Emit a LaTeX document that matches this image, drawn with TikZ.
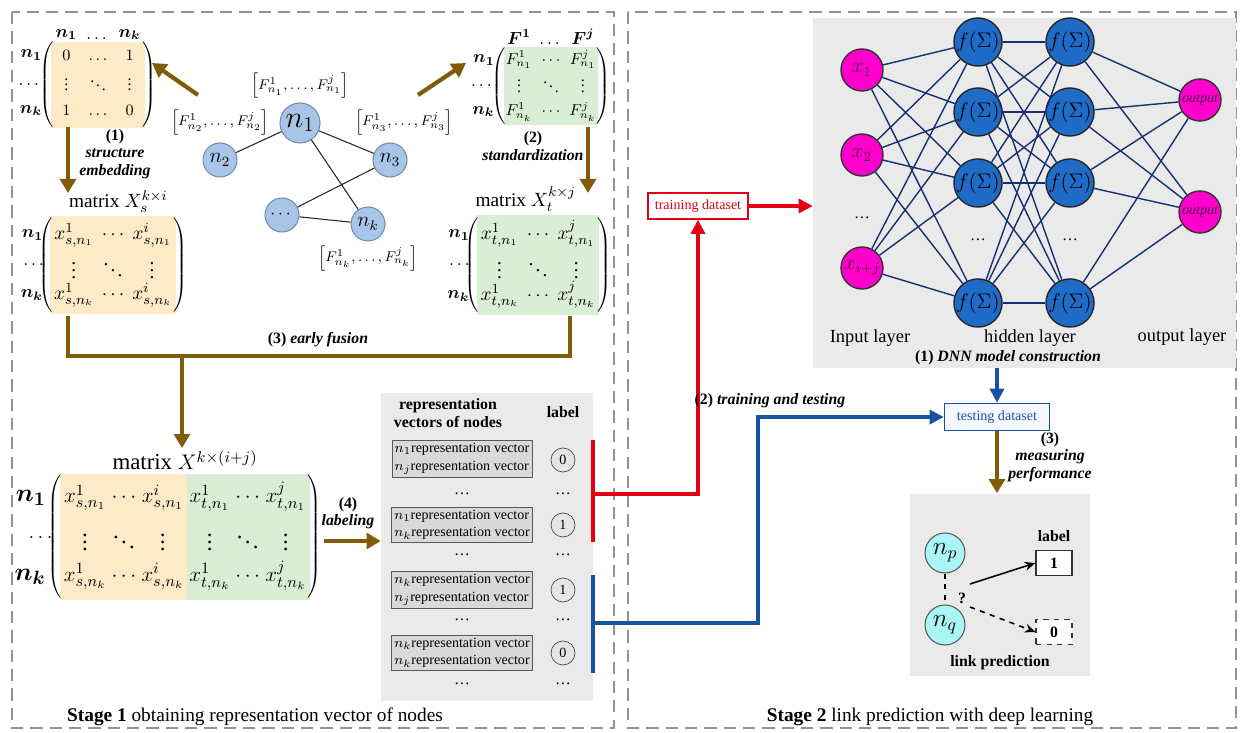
\documentclass[tikz,border=0pt]{standalone}
\usepackage{fontspec}
\setmainfont{Liberation Serif}
\usepackage{amsmath}
\usepackage{amssymb}
\usetikzlibrary{positioning, matrix, calc, backgrounds, arrows.meta}

\definecolor{brownarr}{RGB}{128,92,8}
\definecolor{yelfill}{RGB}{253,235,200}
\definecolor{grnfill}{RGB}{218,237,213}
\definecolor{panelgray}{RGB}{234,234,234}
\definecolor{gfill}{RGB}{168,196,230}
\definecolor{gdraw}{RGB}{110,140,180}
\definecolor{redline}{RGB}{225,0,20}
\definecolor{blueline}{RGB}{22,84,160}
\definecolor{netblue}{RGB}{22,48,115}
\definecolor{hidblue}{RGB}{30,108,200}
\definecolor{magnode}{RGB}{255,0,204}
\definecolor{cyanfill}{RGB}{170,245,245}

\newcommand{\svdots}{\vbox{\baselineskip=3pt\lineskiplimit=0pt\kern1pt\hbox{.}\hbox{.}\hbox{.}}}
\newcommand{\sddots}{\mathinner{\mkern1mu\raise5pt\hbox{.}\mkern2mu\raise2.5pt\hbox{.}\mkern2mu\hbox{.}\mkern1mu}}

\begin{document}
\begin{tikzpicture}[x=0.02cm, y=-0.02cm,
  every node/.style={font=\fontsize{9}{10}\selectfont},
  every left delimiter/.style={xshift=2.5pt},
  every right delimiter/.style={xshift=-2.5pt},
  stagebox/.style={draw=gray!85, dash pattern=on 7pt off 4pt, line width=0.9pt},
  brownarrow/.style={draw=brownarr, line width=2.4pt, -{Triangle[width=9pt,length=8pt]}},
  brownline/.style={draw=brownarr, line width=2.4pt},
  redarrow/.style={draw=redline, line width=1.8pt, -{Triangle[width=8pt,length=8pt]}},
  redbar/.style={draw=redline, line width=1.8pt},
  bluearrow/.style={draw=blueline, line width=1.8pt, -{Triangle[width=8pt,length=8pt]}},
  bluebar/.style={draw=blueline, line width=1.8pt},
  smallmat/.style={matrix of math nodes, left delimiter=(, right delimiter=), inner sep=1pt,
    column sep=3pt, row sep=1pt,
    nodes={minimum width=15pt, minimum height=13pt, inner sep=0pt, font=\fontsize{9}{10}\selectfont}},
  midmat/.style={matrix of math nodes, left delimiter=(, right delimiter=), inner sep=2pt,
    column sep=2pt, row sep=0pt,
    nodes={minimum width=18pt, minimum height=17pt, inner sep=0pt, font=\fontsize{11}{12}\selectfont}},
  bigmat/.style={matrix of math nodes, left delimiter=(, right delimiter=), inner sep=2pt,
    column sep=3pt, row sep=0pt,
    nodes={minimum width=12pt, minimum height=22pt, inner sep=0pt, font=\fontsize{13}{15}\selectfont}},
  hdr/.style={inner sep=1pt, font=\fontsize{10}{11}\selectfont},
  rowlab/.style={inner sep=0pt, font=\fontsize{10}{11}\selectfont},
  matlab/.style={inner sep=1pt, font=\fontsize{11}{12}\selectfont},
  capt/.style={align=center, inner sep=1pt, font=\fontsize{9}{10}\selectfont},
  gnode/.style={circle, fill=gfill, draw=gdraw, line width=0.6pt, minimum size=0.68cm, inner sep=0pt, font=\large},
  gedge/.style={draw=black!85, line width=0.6pt},
  featlab/.style={inner sep=1pt, font=\fontsize{8}{9}\selectfont},
  panel/.style={fill=panelgray, draw=none, inner sep=0pt},
  bhead/.style={align=center, inner sep=1pt, font=\bfseries\fontsize{9}{10}\selectfont},
  repbox/.style={draw=gray!70!black, fill=black!15, align=left, inner sep=1.5pt,
    minimum width=2.6cm, font=\fontsize{8}{10}\selectfont},
  lcirc/.style={circle, draw=gray!60!black, fill=black!10, minimum size=0.48cm, inner sep=0pt,
    font=\fontsize{8}{9}\selectfont},
  dotn/.style={inner sep=0pt},
  trainbox/.style={draw=redline, fill=white, text=redline, line width=0.9pt,
    minimum width=2cm, minimum height=0.52cm, font=\fontsize{8}{9}\selectfont},
  testbox/.style={draw=blueline, fill=blue!3, text=blueline, line width=0.9pt,
    minimum width=2.1cm, minimum height=0.54cm, font=\fontsize{8}{9}\selectfont},
  innode/.style={circle, fill=magnode, draw=black!80, line width=0.8pt, minimum size=0.84cm,
    inner sep=0pt, font=\fontsize{12}{13}\selectfont, text=violet!60!black},
  hidnode/.style={circle, fill=hidblue, draw=black!85, line width=0.8pt, minimum size=0.84cm,
    inner sep=0pt, font=\fontsize{12}{13}\selectfont},
  outnode/.style={circle, fill=magnode, draw=black!80, line width=0.8pt, minimum size=0.84cm,
    inner sep=0pt, font=\itshape\fontsize{8}{9}\selectfont, text=violet!60!black},
  netedge/.style={draw=netblue, line width=0.8pt},
  layerlab/.style={inner sep=1pt, font=\fontsize{10.5}{12}\selectfont},
  cnode/.style={circle, fill=cyanfill, draw=gray!70!black, line width=0.6pt, minimum size=0.8cm,
    inner sep=0pt, font=\Large},
  lbox/.style={draw=black!80, fill=white, line width=0.7pt, minimum width=0.72cm, minimum height=0.5cm},
  linkarrow/.style={draw=black, line width=0.9pt, -{Stealth[length=6pt,width=5pt]}},
  stagetxt/.style={inner sep=1pt, font=\fontsize{11}{12}\selectfont}]

\useasboundingbox (0,0) rectangle (1242,733);

\draw[stagebox] (12,12) rectangle (614,728);
\draw[stagebox] (628,12) rectangle (1236,728);

% stage 1: matrices
\matrix (mA) [smallmat, fill=yelfill] at (98,85) {
  0 & \dots & 1 \\
  \svdots & \sddots & \svdots \\
  1 & \dots & 0 \\
};
\node[hdr, anchor=south] (hA1) at (mA-1-1 |- mA.north) {$\boldsymbol{n_1}$};
\node[hdr, anchor=south] (hA2) at (mA-1-2 |- mA.north) {$\dots$};
\node[hdr, anchor=south] (hA3) at (mA-1-3 |- mA.north) {$\boldsymbol{n_k}$};

\matrix (mF) [smallmat, fill=grnfill] at (551,86) {
  F^{1}_{n_1} & \cdots & F^{j}_{n_1} \\
  \svdots & \sddots & \svdots \\
  F^{1}_{n_k} & \cdots & F^{j}_{n_k} \\
};
\node[hdr, anchor=south] (hF1) at (mF-1-1 |- mF.north) {$\boldsymbol{F^1}$};
\node[hdr, anchor=south] (hF2) at (mF-1-2 |- mF.north) {$\dots$};
\node[hdr, anchor=south] (hF3) at (mF-1-3 |- mF.north) {$\boldsymbol{F^j}$};

\matrix (mB) [midmat, fill=yelfill] at (113,265) {
  x^{1}_{s,n_1} & \cdots & x^{i}_{s,n_1} \\
  \vdots & \ddots & \vdots \\
  x^{1}_{s,n_k} & \cdots & x^{i}_{s,n_k} \\
};
\node[matlab, above=1pt of mB, xshift=3pt] (lB) {matrix $X_s^{k\times i}$};

\matrix (mD) [midmat, fill=grnfill] at (538,265) {
  x^{1}_{t,n_1} & \cdots & x^{j}_{t,n_1} \\
  \vdots & \ddots & \vdots \\
  x^{1}_{t,n_k} & \cdots & x^{j}_{t,n_k} \\
};
\node[matlab, above=1pt of mD, xshift=-7pt] (lD) {matrix $X_t^{k\times j}$};

\foreach \m in {mA,mF,mB,mD}{
  \node[rowlab, left=6pt of \m-1-1] (\m-r1) {$\boldsymbol{n_1}$};
  \node[rowlab, left=6pt of \m-2-1] (\m-r2) {$\dots$};
  \node[rowlab, left=6pt of \m-3-1] (\m-r3) {$\boldsymbol{n_k}$};
}

% graph
\node[gnode, minimum size=0.8cm, font=\LARGE] (g1) at (300,123) {$n_1$};
\node[gnode] (g2) at (220,160) {$n_2$};
\node[gnode] (g3) at (390,160) {$n_3$};
\node[gnode, font=\normalsize] (gd) at (282,215) {$\cdots$};
\node[gnode] (gk) at (368,224) {$n_k$};
\draw[gedge] (g1) -- (g2);
\draw[gedge] (g1) -- (g3);
\draw[gedge] (g1) -- (gk);
\draw[gedge] (g3) -- (gd);
\draw[gedge] (gd) -- (gk);
\node[featlab, above=1pt of g1] (f1) {$\left[F^{1}_{n_1},\dots,F^{j}_{n_1}\right]$};
\node[featlab, above=3pt of g2] (f2) {$\left[F^{1}_{n_2},\dots,F^{j}_{n_2}\right]$};
\node[featlab, above=3pt of g3, xshift=8pt] (f3) {$\left[F^{1}_{n_3},\dots,F^{j}_{n_3}\right]$};
\node[featlab, below=1pt of gk] (fk) {$\left[F^{1}_{n_k},\dots,F^{j}_{n_k}\right]$};

\coordinate (eTail) at (198,95);
\coordinate (eHead) at (152,63);
\draw[brownarrow] (eTail) -- (eHead);
\coordinate (sTail) at (418,95);
\coordinate (sHead) at (466,63);
\draw[brownarrow] (sTail) -- (sHead);

\node[capt] (c1) at (115,154) {\textbf{(1)}\\\textbf{\textit{structure}}\\\textbf{\textit{embedding}}};
\node[capt] (c2) at (533,146) {\textbf{(2)}\\\textbf{\textit{standardization}}};
\coordinate (dA1) at (68,127);
\coordinate (dA2) at (68,193);
\draw[brownarrow] (dA1) -- (dA2);
\coordinate (dF1) at (588,127);
\coordinate (dF2) at (588,193);
\draw[brownarrow] (dF1) -- (dF2);

% early fusion
\coordinate (fuL) at (68,316);
\coordinate (fuR) at (570,316);
\coordinate (fuM) at (182,356);
\draw[brownline] (fuL) -- ++(0,40) -| (fuR);
\node[capt] (c3) at (318,340) {\textbf{(3) \textit{early fusion}}};

\matrix (mC) [bigmat] at (185,537) {
  x^{1}_{s,n_1} & \cdots & x^{i}_{s,n_1} & x^{1}_{t,n_1} & \cdots & x^{j}_{t,n_1} \\
  \vdots & \ddots & \vdots & \vdots & \ddots & \vdots \\
  x^{1}_{s,n_k} & \cdots & x^{i}_{s,n_k} & x^{1}_{t,n_k} & \cdots & x^{j}_{t,n_k} \\
};
\begin{scope}[on background layer]
  \coordinate (mCmid) at ($(mC-1-3.east)!0.5!(mC-1-4.west)$);
  \fill[yelfill] (mC.north west) rectangle (mCmid |- mC.south);
  \fill[grnfill] (mCmid |- mC.north) rectangle (mC.south east);
\end{scope}
\node[matlab, font=\fontsize{13}{15}\selectfont, above=1pt of mC] (lC) {matrix $X^{k\times(i+j)}$};
\node[rowlab, font=\fontsize{15}{16}\selectfont, left=10pt of mC-1-1] (mC-r1) {$\boldsymbol{n_1}$};
\node[rowlab, font=\fontsize{13}{14}\selectfont, left=10pt of mC-2-1] (mC-r2) {$\dots$};
\node[rowlab, font=\fontsize{15}{16}\selectfont, left=10pt of mC-3-1] (mC-r3) {$\boldsymbol{n_k}$};
\draw[brownarrow] (fuM) -- (fuM |- lC.north);

% labeling
\node[panel, minimum width=4.24cm, minimum height=6.18cm] (rep) at (487,547) {};
\node[capt] (c4) at (348,513) {\textbf{(4)}\\\textbf{\textit{labeling}}};
\coordinate (lbT) at (324,541);
\draw[brownarrow] (lbT) -- (lbT -| rep.west);

\node[bhead] (rh) at (448,413) {representation\\vectors of nodes};
\node[bhead] (rl) at (563,412) {label};
\node[repbox] (rb1) at (462,459) {$n_1$representation vector\\$n_j$representation vector};
\node[repbox] (rb2) at (462,525) {$n_1$representation vector\\$n_k$representation vector};
\node[repbox] (rb3) at (462,590) {$n_k$representation vector\\$n_j$representation vector};
\node[repbox] (rb4) at (462,653) {$n_k$representation vector\\$n_k$representation vector};
\node[lcirc] (lc1) at (563,460) {0};
\node[lcirc] (lc2) at (563,525) {1};
\node[lcirc] (lc3) at (563,590) {1};
\node[lcirc] (lc4) at (563,653) {0};
\foreach \y [count=\k] in {494,555,620,684}{
  \node[dotn] (dl\k) at (462,\y) {\dots};
  \node[dotn] (dr\k) at (563,\y) {\dots};
}

% stage 2
\node[panel, minimum width=8.46cm, minimum height=7cm] (dnn) at (1024.5,193) {};
\node[trainbox] (train) at (698,206) {training dataset};
\node[testbox] (test) at (997,417) {testing dataset};

\coordinate (rT) at (593,440);
\coordinate (rB) at (593,542);
\coordinate (rM) at (593,494);
\draw[redbar] (rT) -- (rB);
\draw[redarrow] (rM) -| (train.south);
\draw[redarrow] (train.east) -- (train.east -| dnn.west);

\coordinate (bT) at (593,575);
\coordinate (bB) at (593,673);
\coordinate (bM) at (593,623);
\draw[bluebar] (bT) -- (bB);
\draw[bluearrow] (bM) -- ++(165,0) |- (test.west);
\node[capt] (c5) at (770,401) {\textbf{(2) \textit{training and testing}}};

% network
\node[innode] (in1) at (862,70) {$x_1$};
\node[innode] (in2) at (862,155) {$x_2$};
\node[innode] (in3) at (862,268) {$x_{i+j}$};
\node[dotn] (ind) at (862,218) {\dots};
\foreach \n/\y in {1/42,2/112,3/183,4/303}{
  \node[hidnode] (ha\n) at (978,\y) {$f(\Sigma)$};
  \node[hidnode] (hb\n) at (1070,\y) {$f(\Sigma)$};
}
\node[dotn] (had) at (978,240) {\dots};
\node[dotn] (hbd) at (1070,240) {\dots};
\node[outnode] (out1) at (1200,100) {output};
\node[outnode] (out2) at (1200,212) {output};
\foreach \i in {1,2,3}
  \foreach \j in {1,...,4}
    \draw[netedge] (in\i) -- (ha\j);
\foreach \i in {1,...,4}
  \foreach \j in {1,...,4}
    \draw[netedge] (ha\i) -- (hb\j);
\foreach \i in {1,...,4}
  \foreach \j in {1,2}
    \draw[netedge] (hb\i) -- (out\j);
\node[layerlab] (ll1) at (870,338) {Input layer};
\node[layerlab] (ll2) at (1030,338) {hidden layer};
\node[layerlab] (ll3) at (1182,337) {output layer};
\node[capt] (c6) at (1008,358) {\textbf{(1) \textit{DNN model construction}}};

\draw[bluearrow] (dnn.south -| test) -- (test.north);

% link prediction
\node[panel, minimum width=3.6cm, minimum height=3.66cm] (link) at (1000,585) {};
\draw[brownarrow] (test.south) -- (test.south |- link.north);
\node[capt] (c7) at (1050,457) {\textbf{(3)}\\\textbf{\textit{measuring}}\\\textbf{\textit{performance}}};
\node[cnode] (np) at (945,553) {$n_p$};
\node[cnode] (nq) at (945,625) {$n_q$};
\draw[dashed, line width=1pt] (np) -- (nq);
\node[inner sep=1pt] (qm) at (962,598) {\textbf{?}};
\node[bhead] (lbl) at (1054,536) {label};
\node[lbox] (lb1) at (1054,563) {\textbf{1}};
\node[lbox, dashed] (lb0) at (1054,632) {\textbf{0}};
\coordinate (aU) at (970,584);
\coordinate (aD) at (970,607);
\draw[linkarrow] (aU) -- (lb1.west);
\draw[linkarrow, dashed] (aD) -- (lb0.west);
\node[bhead] (lp) at (1000,663) {link prediction};

\node[stagetxt] (s1) at (255,717) {\textbf{Stage 1} obtaining representation vector of nodes};
\node[stagetxt] (s2) at (930,717) {\textbf{Stage 2} link prediction with deep learning};
\end{tikzpicture}
\end{document}
